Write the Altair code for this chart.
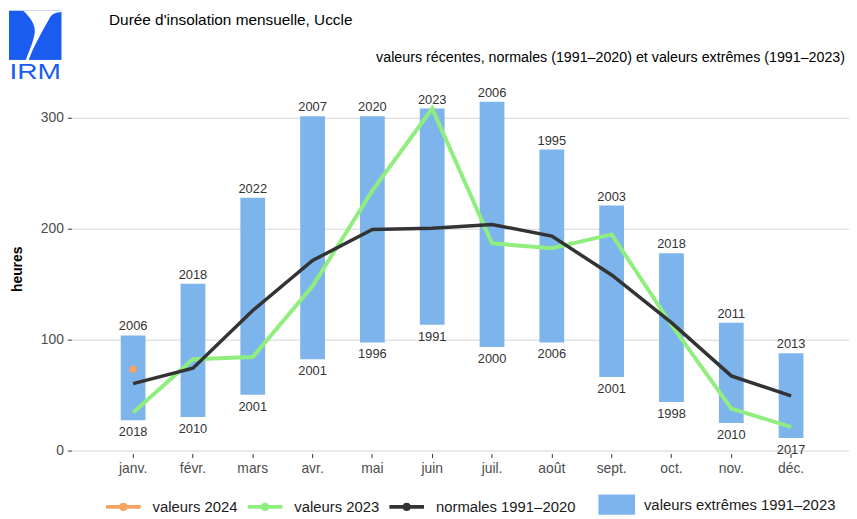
import altair as alt
import pandas as pd
import urllib.parse

months = ["janv.", "févr.", "mars", "avr.", "mai", "juin", "juil.", "août", "sept.", "oct.", "nov.", "déc."]
ext_max = [103.5, 150, 227.5, 301, 301, 308, 314, 271, 220.5, 177.5, 115, 87.5]
ext_min = [27, 30, 50, 82, 97, 113, 93, 97, 66, 43.5, 24.5, 11]
year_max = ["2006", "2018", "2022", "2007", "2020", "2023", "2006", "1995", "2003", "2018", "2011", "2013"]
year_min = ["2018", "2010", "2001", "2001", "1996", "1991", "2000", "2006", "2001", "1998", "2010", "2017"]
normales = [60, 74, 126, 171, 199, 200, 203.5, 193, 158, 115, 67, 49]
val2023 = [34, 82, 84, 148, 234, 308, 186.5, 182, 194.5, 113, 37.5, 21]
val2024_months = ["janv."]
val2024 = [73]

series_names = ["valeurs 2024", "valeurs 2023", "normales 1991\u20132020"]
series_colors = ["#f4a460", "#90ee7e", "#333333"]
ext_label = "valeurs extr\u00eames 1991\u20132023"
bar_color = "#7db4eb"

FONT = "Liberation Sans"

bars_df = pd.DataFrame({"mois": months, "max": ext_max, "min": ext_min,
                        "ymax": year_max, "ymin": year_min, "lab": ext_label})
df23 = pd.DataFrame({"mois": months, "v": val2023, "serie": series_names[1]})
dfn = pd.DataFrame({"mois": months, "v": normales, "serie": series_names[2]})
df24 = pd.DataFrame({"mois": val2024_months, "v": val2024, "serie": series_names[0]})

W, H = 785, 373
PL, PT = 64, 74.4
xscale = alt.Scale(domain=months, padding=1.032, align=0.516)
yscale = alt.Scale(domain=[-3, 330], nice=False, zero=False)

xaxis = alt.Axis(title=None, labelAngle=0, labelFontSize=14, labelColor="#4d4d4d",
                 tickColor="#333333", tickSize=4, domain=False, grid=False, labelPadding=4)
yaxis = alt.Axis(values=[0, 100, 200, 300], title="heures", titleFontWeight="bold",
                 titleFontSize=14, titleColor="#000000", labelFontSize=14, labelColor="#4d4d4d",
                 tickColor="#333333", tickSize=4, domain=False, gridColor="#d4d4d4",
                 gridWidth=1, labelPadding=4, titlePadding=16)

X = alt.X("mois:O", scale=xscale, axis=xaxis, sort=months)
Xn = alt.X("mois:O", scale=xscale, sort=months)

color_enc = alt.Color("serie:N", scale=alt.Scale(domain=series_names, range=series_colors),
                      legend=alt.Legend(title=None, orient="none", direction="horizontal",
                                        legendX=105 - 8 - PL, legendY=507 - 17.5 - 8 - PT,
                                        labelFontSize=15, labelColor="#1a1a1a",
                                        symbolType="M-1,0H1M-0.12,0A0.12,0.12 0 1,0 0.12,0A0.12,0.12 0 1,0 -0.12,0",
                                        symbolSize=1225, symbolStrokeWidth=4,
                                        labelOffset=10, columnPadding=2))

bars = alt.Chart(bars_df).mark_bar(size=25).encode(
    x=X,
    y=alt.Y("max:Q", scale=yscale, axis=yaxis),
    y2="min:Q",
    fill=alt.Fill("lab:N", scale=alt.Scale(domain=[ext_label], range=[bar_color]),
                  legend=alt.Legend(title=None, orient="none",
                                    legendX=604 - 8 - PL, legendY=507 - 18.5 - 8 - PT,
                                    labelFontSize=15, labelColor="#1a1a1a", labelLimit=300,
                                    symbolType="M-1,-0.55H1V0.55H-1Z", symbolSize=1369,
                                    symbolStrokeWidth=0, symbolOpacity=1, labelOffset=9)),
)

top_txt = alt.Chart(bars_df).mark_text(fontSize=13, color="#333333", baseline="alphabetic", dy=-5).encode(
    x=Xn, y=alt.Y("max:Q", scale=yscale), text="ymax:N")
bot_txt = alt.Chart(bars_df).mark_text(fontSize=13, color="#333333", baseline="alphabetic", dy=16).encode(
    x=Xn, y=alt.Y("min:Q", scale=yscale), text="ymin:N")

line23 = alt.Chart(df23).mark_line(strokeWidth=4).encode(
    x=Xn, y=alt.Y("v:Q", scale=yscale), color=color_enc)
linen = alt.Chart(dfn).mark_line(strokeWidth=3.5).encode(
    x=Xn, y=alt.Y("v:Q", scale=yscale), color=color_enc)
pt24 = alt.Chart(df24).mark_point(filled=True, size=55, opacity=1).encode(
    x=Xn, y=alt.Y("v:Q", scale=yscale), color=color_enc)

ann_df = pd.DataFrame({"k": [0]})
title_t = alt.Chart(ann_df).mark_text(text="Dur\u00e9e d'insolation mensuelle, Uccle", fontSize=15.5,
                                      align="left", baseline="middle", color="#000000").encode(
    x=alt.value(110 - 8 - PL), y=alt.value(18 - 8 - PT))
sub_t = alt.Chart(ann_df).mark_text(
    text="valeurs r\u00e9centes, normales (1991\u20132020) et valeurs extr\u00eames (1991\u20132023)",
    fontSize=14.4, align="right", baseline="middle", color="#000000").encode(
    x=alt.value(853 - 8 - PL), y=alt.value(56 - 8 - PT))

logo_svg = (
    '<svg xmlns="http://www.w3.org/2000/svg" width="54" height="72" viewBox="0 0 54 72">'
    '<rect x="0" y="0" width="53" height="50" fill="#1a5cf0"/>'
    '<path d="M14,0 C20,5 27,14 26,22 C25,31 21,39 17,50 L20,50 C23,41 27,34 30,28 '
    'C33,22 37,15 41,8 C43,4 47,2 53,2 L53,0 Z" fill="#ffffff"/>'
    '<text x="0.5" y="69" font-family="Liberation Sans, Arial, sans-serif" font-size="23" '
    'fill="#1a5cf0" textLength="52" lengthAdjust="spacingAndGlyphs">IRM</text>'
    '</svg>'
)
logo_uri = "data:image/svg+xml;charset=utf-8," + urllib.parse.quote(logo_svg)
logo = alt.Chart(ann_df).mark_image(width=54, height=72, align="left", baseline="top").encode(
    x=alt.value(9 - 8 - PL), y=alt.value(8 - 8 - PT), url=alt.value(logo_uri))

chart = alt.layer(bars, top_txt, bot_txt, line23, linen, pt24, title_t, sub_t, logo).resolve_scale(
    color="shared"
).properties(
    width=W, height=H,
    autosize=alt.AutoSizeParams(type="none"),
    padding={"left": PL, "top": PT, "right": 0, "bottom": 60},
).configure(font=FONT).configure_view(stroke=None)

chart.save("out.html", embed_options={"renderer": "svg", "actions": False})
